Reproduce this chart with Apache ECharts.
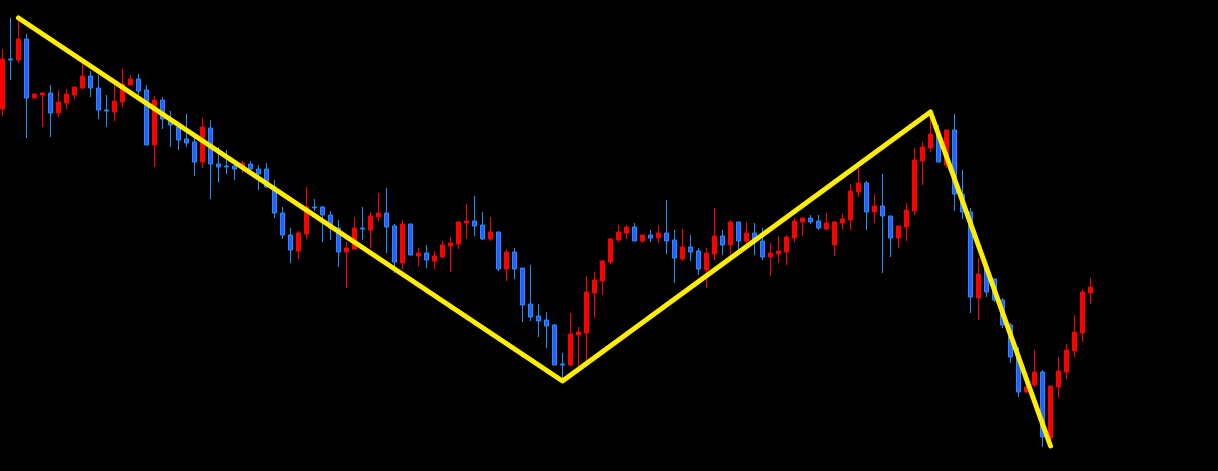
<!DOCTYPE html>
<html>
<head>
<meta charset="utf-8">
<script src="https://cdn.jsdelivr.net/npm/echarts@6/dist/echarts.min.js"></script>
<style>
html,body{margin:0;padding:0;background:#000;}
#chart{width:1218px;height:471px;}
</style>
</head>
<body>
<div id="chart"></div>
<script>
// Price readings (arbitrary price units) for 137 bars
const categories = Array.from({length: 137}, (_, i) => String(i + 1));
const openVals = [
391,441,440,461,402,405,407,387,397,405,
412,424,412,390,388,398,415,421,410,355,
400,380,373,361,358,338,372,336,334,334,
332,336,331,331,313,287,265,249,266,293,
293,285,272,248,251,272,270,283,287,274,
237,276,244,247,239,243,254,256,277,279,
275,261,268,231,248,232,196,184,180,175,
136,135,165,167,207,219,238,260,267,273,
259,265,262,267,260,241,253,249,230,246,
264,255,278,259,267,259,243,246,248,262,
278,282,279,271,255,277,280,308,317,288,
294,284,262,273,289,339,352,365,335,370,
306,288,202,232,221,200,175,144,108,115,
128,62,113,128,149,167,207];
const closeVals = [
441,440,461,402,406,407,387,398,406,413,
424,412,390,389,399,416,421,409,355,400,
381,375,360,357,338,373,336,333,333,331,
337,331,326,313,287,265,250,267,293,292,
285,272,248,252,272,271,284,287,273,238,
276,245,247,240,244,255,257,278,279,274,
261,268,231,248,231,195,183,179,174,135,
135,166,168,208,220,239,261,268,273,259,
265,262,267,259,242,253,248,231,247,264,
255,278,259,267,261,243,247,249,263,279,
282,278,272,277,278,281,309,317,288,294,
284,262,274,290,340,353,366,338,370,306,
288,203,226,208,200,175,143,108,113,128,
63,114,129,150,168,208,213];
const highVals = [
451,482,482,466,406,407,415,410,411,413,
437,429,425,405,416,431,425,426,415,404,
403,389,375,386,365,382,380,353,350,337,
339,339,335,337,320,293,272,269,313,301,
294,289,280,258,283,293,288,307,312,276,
280,276,252,255,249,259,263,279,296,304,
288,283,268,251,252,232,235,196,188,176,
147,187,173,224,228,240,262,275,275,277,
265,270,275,300,270,271,265,252,252,292,
270,280,278,278,277,272,257,264,265,282,
282,285,285,287,279,286,316,332,319,306,
326,284,274,297,352,358,390,375,370,386,
330,292,242,238,222,202,177,153,117,150,
130,114,143,156,185,211,222];
const lowVals = [
384,420,437,362,402,373,363,383,391,401,
411,403,381,373,379,393,415,405,355,333,
371,353,350,353,324,332,301,318,326,320,
327,328,310,312,282,261,237,241,261,289,
258,260,233,212,250,260,252,279,247,227,
231,245,234,232,231,242,228,251,261,264,
260,259,229,219,221,178,179,163,152,135,
119,134,133,138,182,205,236,258,261,259,
257,258,257,246,217,239,239,225,212,240,
245,246,250,250,245,240,224,237,235,258,
264,276,270,270,244,270,270,303,270,277,
227,243,252,259,285,315,348,338,332,289,
281,187,180,203,198,172,137,103,107,113,
53,52,102,121,143,158,196];
// ZigZag pivots (bar index, price)
const zigzagIdx = [2, 70, 116, 131];
const zigzagVals = [482, 119, 388, 54];

const candleData = categories.map((_, i) => [openVals[i], closeVals[i], lowVals[i], highVals[i]]);
const zigzagData = zigzagIdx.map((idx, j) => [idx, zigzagVals[j]]);

const chart = echarts.init(document.getElementById('chart'), null, {renderer: 'canvas'});
chart.setOption({
  backgroundColor: '#000000',
  animation: false,
  grid: {left: 2.5, right: 127.5, top: 0, bottom: 0, containLabel: false},
  xAxis: {
    type: 'category', data: categories, boundaryGap: false,
    axisLine: {show: false}, axisTick: {show: false}, axisLabel: {show: false}, splitLine: {show: false}
  },
  yAxis: {
    type: 'value', min: 29, max: 500, scale: true,
    axisLine: {show: false}, axisTick: {show: false}, axisLabel: {show: false}, splitLine: {show: false}
  },
  series: [
    {
      type: 'candlestick',
      data: candleData,
      barWidth: 4,
      clip: false,
      itemStyle: {
        color: '#ff0000', borderColor: '#ff0000',
        color0: '#2a5cff', borderColor0: '#1e90ff',
        borderWidth: 1
      }
    },
    {
      type: 'line',
      data: zigzagData,
      symbol: 'none',
      lineStyle: {color: '#ffee00', width: 5, cap: 'round', join: 'round'},
      z: 5
    }
  ]
});
</script>
</body>
</html>
